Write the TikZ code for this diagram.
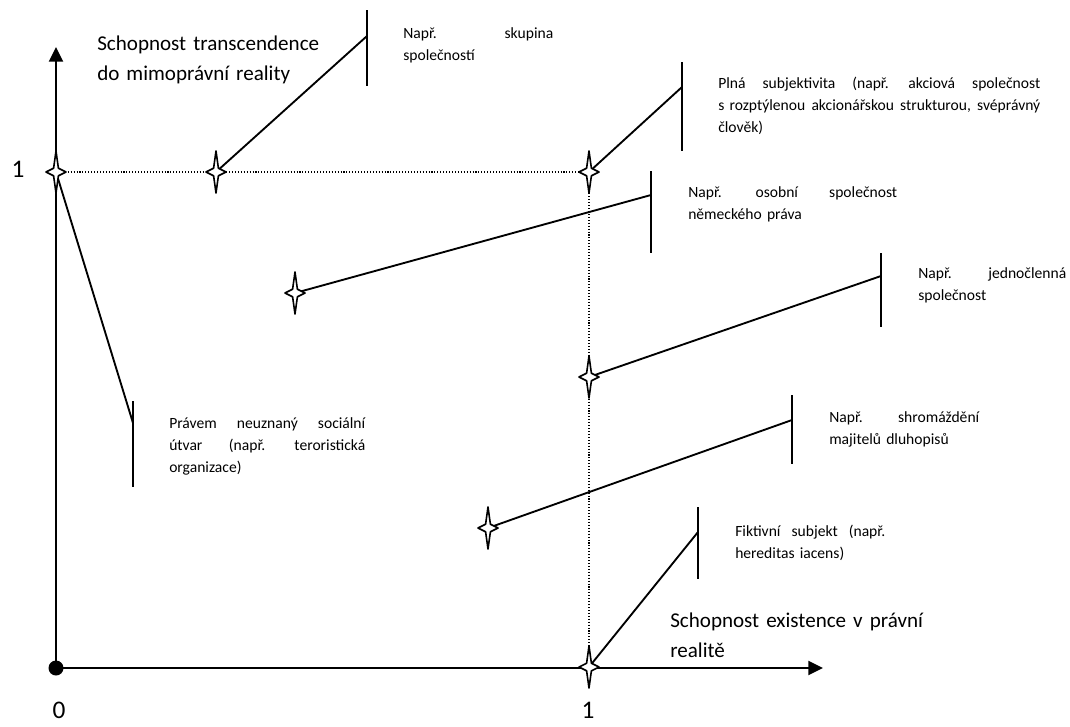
\documentclass[tikz,border=0pt]{standalone}
\usepackage{fontspec}
\setmainfont{Carlito}
\usetikzlibrary{arrows.meta}

\begin{document}
\begin{tikzpicture}[x=0.75pt, y=-0.75pt]
\tikzset{
  osa/.style={line width=1.5pt,-{Triangle[length=11pt,width=10.5pt]}},
  spoj/.style={line width=1.4pt},
  zarazka/.style={line width=1.4pt},
  tecky/.style={line width=0.8pt,dash pattern=on 0.8pt off 1.4pt},
  popis/.style={inner sep=0pt,anchor=base west,align=left,font=\fontsize{11.7}{16.5}\selectfont},
  velky/.style={inner sep=0pt,anchor=base west,align=left,text width=200pt,font=\fontsize{15.8}{22.5}\selectfont},
  cislo/.style={inner sep=0pt,font=\fontsize{19}{22}\selectfont},
  hvezda/.pic={\draw[line width=1.2pt,fill=white,line join=round]
    (0,-21) -- (2.4,-3.8) -- (10,0) -- (2.4,3.8) -- (0,21) -- (-2.4,3.8) -- (-10,0) -- (-2.4,-3.8) -- cycle;}
}
\useasboundingbox (0,0) rectangle (1070,726);
% ---- axes
\coordinate (O) at (56,668);
\coordinate (ytip) at (56,47);
\coordinate (xtip) at (823,668);
\draw[osa] (O) -- (ytip);
\draw[osa] (O) -- (xtip);
\fill (O) circle[radius=7.5];
\node[cislo] (nula) at (59,710) {0};
\node[cislo] (jednax) at (588,710) {1};
\node[cislo] (jednay) at (18,169) {1};
\node[velky] (osay) at (97,50) {Schopnost transcendence\\ do mimoprávní reality};
\node[velky] (osax) at (670,627) {Schopnost existence v právní\\ realitě};
% ---- points
\coordinate (h0) at (56,172);
\coordinate (h1) at (216,172);
\coordinate (h2) at (589,172);
\coordinate (h3) at (295,293);
\coordinate (h4) at (589,377);
\coordinate (h5) at (488,528);
\coordinate (h6) at (589,667);
\draw[tecky] (h0) -- (h2) -- (h6);
% ---- connectors to the ticks
\coordinate (k0) at (133,423);
\coordinate (k1) at (367,36);
\coordinate (k2) at (682,87);
\coordinate (k3) at (651,195);
\coordinate (k4) at (881,276);
\coordinate (k5) at (792,420);
\coordinate (k6) at (698,532);
\draw[spoj] (h0) -- (k0);
\draw[spoj] (h1) -- (k1);
\draw[spoj] (h2) -- (k2);
\draw[spoj] (h3) -- (k3);
\draw[spoj] (h4) -- (k4);
\draw[spoj] (h5) -- (k5);
\draw[spoj] (h6) -- (k6);
\draw[zarazka] (133,401) -- (133,487);
\draw[zarazka] (367,10) -- (367,86);
\draw[zarazka] (682,62) -- (682,151);
\draw[zarazka] (651,171) -- (651,253);
\draw[zarazka] (881,253) -- (881,327);
\draw[zarazka] (792,395) -- (792,464);
\draw[zarazka] (698,507) -- (698,579);
\foreach \h in {h0,h1,h2,h3,h4,h5,h6} \pic at (\h) {hvezda};
% ---- labels
\node[popis,text width=147pt] (pravem) at (169,428) {Právem \hfill neuznaný \hfill sociální\\ útvar \hfill (např. \hfill teroristická\\ organizace)};
\node[popis,text width=112.5pt] (skupina) at (403,38) {Např. \hfill skupina\\ společností};
\node[popis,text width=241.5pt] (plna) at (718,88) {Plná \hfill subjektivita \hfill (např. \hfill akciová \hfill společnost\\ s~rozptýlenou \hfill akcionářskou \hfill strukturou, \hfill svéprávný\\ člověk)};
\node[popis,text width=156.75pt] (osobni) at (688,197) {Např. \hfill osobní \hfill společnost\\ německého práva};
\node[popis,text width=111pt] (jednoclenna) at (918,278) {Např. \hfill jednočlenná\\ společnost};
\node[popis,text width=112.5pt] (shromazdeni) at (829,422) {Např. \hfill shromáždění\\ majitelů dluhopisů};
\node[popis,text width=112.5pt] (fiktivni) at (735,536) {Fiktivní \hfill subjekt \hfill (např.\\ hereditas iacens)};
\end{tikzpicture}
\end{document}
